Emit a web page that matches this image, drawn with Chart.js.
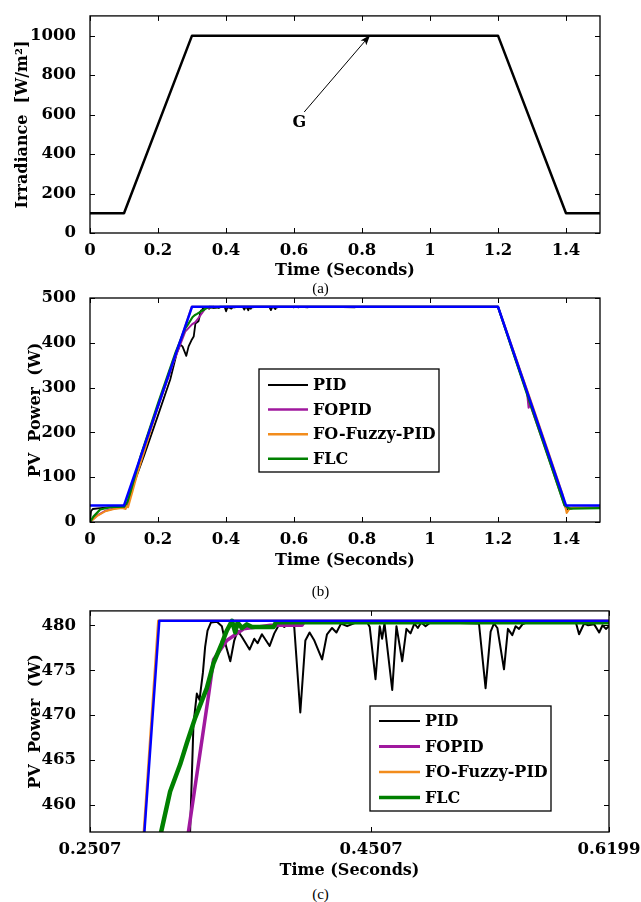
<!DOCTYPE html>
<html>
<head>
<meta charset="utf-8">
<script src="https://cdn.jsdelivr.net/npm/chart.js@4.4.1/dist/chart.umd.min.js"></script>
<style>
  html, body { margin: 0; padding: 0; background: #fff; }
  body { width: 641px; height: 902px; position: relative; overflow: hidden; }
  canvas { position: absolute; left: 0; }
  .cap { position: absolute; left: 0; width: 641px; text-align: center; font: 15px 'Liberation Serif', serif; color: #000; line-height: 16px; }
</style>
</head>
<body>
<canvas id="chartA" width="641" height="280" style="top:0"></canvas>
<canvas id="chartB" width="641" height="290" style="top:280px"></canvas>
<canvas id="chartC" width="641" height="285" style="top:595px"></canvas>
<div class="cap" style="top:280px">(a)</div>
<div class="cap" style="top:583px">(b)</div>
<div class="cap" style="top:886px">(c)</div>
<script>
// irradiance profile, panel (a)
const irrT = [0, 0.1, 0.3, 1.2, 1.4, 1.5];
const irrG = [100, 100, 1000, 1000, 100, 100];

// ideal maximum power (blue)
const pmaxT = [0, 0.1, 0.3, 1.2, 1.4, 1.5];
const pmaxP = [37, 37, 480.5, 480.5, 37, 37];

// PID
const pidT = [0, 0.003, 0.008, 0.03, 0.06, 0.1, 0.11, 0.13, 0.16, 0.2, 0.236, 0.2557, 0.2655, 0.272, 0.2832, 0.29, 0.298, 0.305, 0.31, 0.319, 0.3219,
  0.3243, 0.3267, 0.3286, 0.331, 0.3326, 0.3343, 0.3367, 0.341, 0.3445, 0.3476, 0.3505, 0.3533, 0.3557, 0.3588, 0.3642, 0.3676, 0.3699, 0.373,
  0.3785, 0.3818, 0.3856, 0.3889, 0.3927, 0.396, 0.4003, 0.4039, 0.4069, 0.4103, 0.4158, 0.4193, 0.4229, 0.426, 0.4293, 0.4336, 0.4407, 0.4478,
  0.4497, 0.4538, 0.4568, 0.4585, 0.4602, 0.4657, 0.4687, 0.4728, 0.4758, 0.4787, 0.4815, 0.4839, 0.4863, 0.4894, 0.493, 0.5274, 0.5321, 0.5357,
  0.5381, 0.5405, 0.5452, 0.548, 0.5511, 0.5535, 0.5559, 0.5583, 0.5619, 0.5963, 0.5986, 0.6022, 0.6051, 0.6094, 0.6129, 0.6153, 0.6177, 0.6207,
  0.64, 0.645, 0.7, 0.705, 0.78, 0.785, 0.86, 0.865, 0.95, 0.955, 1.05, 1.055, 1.15, 1.155, 1.2, 1.25, 1.3, 1.35, 1.395, 1.405, 1.42, 1.5];
const pidP = [0, 24, 29, 31, 33, 34, 40, 88, 150, 238, 318, 378, 396, 392, 371, 392, 405, 414, 443, 448, 457,
  469, 472.4, 471.7, 474.7, 477.6, 479.4, 480.3, 480.4, 479.9, 477.6, 476.0, 478.3, 479.4, 478.7, 477.3, 478.5, 478.0, 479.0,
  477.7, 479.1, 480.2, 479.8, 480.3, 479.8, 470.3, 478.3, 479.2, 478.3, 476.2, 479.0, 479.7, 479.2, 480.2, 479.9, 480.35, 480.35,
  479.8, 474.0, 479.9, 478.5, 480.2, 472.8, 479.9, 476.0, 479.6, 479.1, 480.2, 479.7, 480.3, 479.9, 480.35, 480.2, 473.0, 479.3,
  480.2, 479.7, 475.1, 479.6, 478.9, 479.9, 479.6, 480.1, 480.35, 480.35, 479.0, 480.2, 480.0, 480.1, 479.2, 480.0, 479.6, 480.0,
  479.3, 480.3, 479.5, 480.3, 479.4, 480.3, 479.6, 480.3, 479.5, 480.3, 479.6, 480.3, 479.5, 480.3, 480.35, 366, 255, 143, 42, 28, 31, 32];

// FOPID
const fopidT = [0, 0.02, 0.045, 0.07, 0.1, 0.11, 0.15, 0.2, 0.25, 0.28, 0.3, 0.31, 0.3207, 0.335, 0.3386, 0.348, 0.36, 0.379, 0.4015, 0.403,
  1.2, 1.25, 1.285, 1.29, 1.295, 1.3, 1.35, 1.397, 1.41, 1.5];
const fopidP = [0, 14, 25, 30, 33, 38, 148, 258, 366, 425, 441, 446, 457, 472.2, 476.2, 478.3, 479.6, 480.0, 480.0, 480.35,
  480.35, 370, 292, 255, 262, 250, 140, 34, 31, 32];

// FO-Fuzzy-PID
const fuzzyT = [0, 0.02, 0.045, 0.07, 0.095, 0.105, 0.108, 0.112, 0.12, 0.125, 0.14, 0.17, 0.2, 0.25, 0.2993,
  1.2, 1.25, 1.3, 1.35, 1.39, 1.402, 1.41, 1.42, 1.5];
const fuzzyP = [0, 13, 24, 29, 31, 29, 36, 33, 55, 68, 110, 183, 258, 368, 480.5,
  480.5, 372, 263, 152, 62, 20, 29, 32, 32];

// FLC
const flcT = [0, 0.01, 0.03, 0.06, 0.1, 0.11, 0.12, 0.15, 0.2, 0.25, 0.28, 0.29, 0.3013, 0.3077, 0.3148, 0.3196, 0.3255, 0.3338, 0.3386,
  0.3445, 0.348, 0.3517, 0.354, 0.3557, 0.3588, 0.3623, 0.366, 0.3813, 0.383, 1.2, 1.25, 1.3, 1.35, 1.395, 1.41, 1.5];
const flcP = [0, 12, 28, 33, 34, 45, 70, 150, 265, 375, 432, 443, 457, 461.5, 464.5, 466.9, 469.7, 473.0, 475.8,
  478.0, 479.4, 480.5, 479.2, 480.3, 479.7, 480.1, 479.8, 479.8, 480.35, 480.35, 366, 252, 140, 38, 30, 31];

const timeTicksAB = [0, 0.2, 0.4, 0.6, 0.8, 1, 1.2, 1.4];
const timeTicksC = [0.2507, 0.4507, 0.6199];
const irrTicks = [0, 200, 400, 600, 800, 1000];
const powTicksB = [0, 100, 200, 300, 400, 500];
const powTicksC = [460, 465, 470, 475, 480];
const legendOrder = ['PID', 'FOPID', 'FO-Fuzzy-PID', 'FLC'];

// arrow "G" in panel (a): tail, tip and label in data units
const arrowTail = [0.630, 613];
const arrowTip = [0.824, 1003];
const arrowLabel = [0.616, 556];

const FONT = "'DejaVu Serif', serif";
const pts = (t, v) => t.map((x, i) => ({ x, y: v[i] }));

// frame with inward ticks on all four sides, MATLAB style
const boxAxes = {
  id: 'boxAxes',
  afterDatasetsDraw(chart) {
    const { ctx, chartArea: a, scales: { x, y } } = chart;
    const L = 5;
    ctx.save();
    ctx.strokeStyle = '#000';
    ctx.lineWidth = 1;
    ctx.beginPath();
    x.ticks.forEach(t => {
      const px = Math.round(x.getPixelForValue(t.value)) + 0.5;
      ctx.moveTo(px, a.bottom); ctx.lineTo(px, a.bottom - L);
      ctx.moveTo(px, a.top); ctx.lineTo(px, a.top + L);
    });
    y.ticks.forEach(t => {
      const py = Math.round(y.getPixelForValue(t.value)) + 0.5;
      ctx.moveTo(a.left, py); ctx.lineTo(a.left + L, py);
      ctx.moveTo(a.right, py); ctx.lineTo(a.right - L, py);
    });
    ctx.stroke();
    ctx.lineWidth = 1.3;
    ctx.strokeRect(a.left, a.top, a.right - a.left, a.bottom - a.top);
    ctx.restore();
  }
};

const legendBox = {
  id: 'legendBox',
  afterDatasetsDraw(chart, args, o) {
    if (!o || !o.w) return;
    const { ctx } = chart;
    ctx.save();
    ctx.fillStyle = '#fff';
    ctx.fillRect(o.x, o.y, o.w, o.h);
    ctx.strokeStyle = '#000';
    ctx.lineWidth = 1.3;
    ctx.strokeRect(o.x, o.y, o.w, o.h);
    ctx.font = 'bold 16px ' + FONT;
    ctx.textBaseline = 'middle';
    legendOrder.forEach((label, i) => {
      const ds = chart.data.datasets.find(d => d.label === label);
      const yy = o.y + o.first + i * o.gap;
      ctx.strokeStyle = ds.borderColor;
      ctx.lineWidth = o.lw[i];
      ctx.beginPath();
      ctx.moveTo(o.x + o.l0, yy); ctx.lineTo(o.x + o.l1, yy);
      ctx.stroke();
      ctx.fillStyle = '#000';
      ctx.fillText(label, o.x + o.tx, yy + 1);
    });
    ctx.restore();
  }
};

const arrowNote = {
  id: 'arrowNote',
  afterDatasetsDraw(chart, args, o) {
    if (!o || !o.on) return;
    const { ctx, scales: { x, y } } = chart;
    const x0 = x.getPixelForValue(arrowTail[0]), y0 = y.getPixelForValue(arrowTail[1]);
    const x1 = x.getPixelForValue(arrowTip[0]), y1 = y.getPixelForValue(arrowTip[1]);
    const ang = Math.atan2(y1 - y0, x1 - x0);
    ctx.save();
    ctx.strokeStyle = '#000';
    ctx.fillStyle = '#000';
    ctx.lineWidth = 1;
    ctx.beginPath(); ctx.moveTo(x0, y0); ctx.lineTo(x1, y1); ctx.stroke();
    ctx.beginPath();
    ctx.moveTo(x1, y1);
    ctx.lineTo(x1 - 11 * Math.cos(ang - 0.35), y1 - 11 * Math.sin(ang - 0.35));
    ctx.lineTo(x1 - 8 * Math.cos(ang), y1 - 8 * Math.sin(ang));
    ctx.lineTo(x1 - 11 * Math.cos(ang + 0.35), y1 - 11 * Math.sin(ang + 0.35));
    ctx.closePath(); ctx.fill();
    ctx.font = 'bold 16px ' + FONT;
    ctx.textAlign = 'center';
    ctx.textBaseline = 'middle';
    ctx.fillText('G', x.getPixelForValue(arrowLabel[0]), y.getPixelForValue(arrowLabel[1]));
    ctx.restore();
  }
};

function axisX(min, max, ticks, fmt, height) {
  return {
    type: 'linear', min, max,
    afterBuildTicks: s => { s.ticks = ticks.map(v => ({ value: v })); },
    afterFit: s => { s.height = height; },
    grid: { display: false }, border: { display: false },
    ticks: { color: '#000', padding: 0, maxRotation: 0, autoSkip: false, font: { family: FONT, size: 16.5, weight: 'bold' }, callback: fmt },
    title: { display: true, text: 'Time (Seconds)', color: '#000', padding: 0, font: { family: FONT, size: 16, weight: 'bold' } },
  };
}

function axisY(min, max, ticks, title, titlePad) {
  return {
    type: 'linear', min, max,
    afterBuildTicks: s => { s.ticks = ticks.map(v => ({ value: v })); },
    afterFit: s => { s.width = 90; },
    grid: { display: false }, border: { display: false },
    ticks: { color: '#000', padding: 6, autoSkip: false, font: { family: FONT, size: 16.5, weight: 'bold' }, callback: v => String(v) },
    title: { display: true, text: title, color: '#000', padding: { top: titlePad, bottom: 0 }, font: { family: FONT, size: 16, weight: 'bold' } },
  };
}

function powerSets(widths) {
  return [
    { label: 'Pmax', data: pts(pmaxT, pmaxP), borderColor: '#0000ff', borderWidth: widths[4], order: 1 },
    { label: 'FLC', data: pts(flcT, flcP), borderColor: '#008000', borderWidth: widths[3], order: 2 },
    { label: 'FO-Fuzzy-PID', data: pts(fuzzyT, fuzzyP), borderColor: '#f28c1c', borderWidth: widths[2], order: 3 },
    { label: 'FOPID', data: pts(fopidT, fopidP), borderColor: '#a0189e', borderWidth: widths[1], order: 4 },
    { label: 'PID', data: pts(pidT, pidP), borderColor: '#000000', borderWidth: widths[0], order: 5 },
  ];
}

const common = {
  responsive: false, animation: false,
  elements: { point: { radius: 0 }, line: { tension: 0, borderJoinStyle: 'round' } },
};
const fmtAB = v => String(Number(v.toFixed(1)));
const fmtC = v => v.toFixed(4);

new Chart(document.getElementById('chartA'), {
  type: 'line',
  data: { datasets: [{ label: 'G', data: pts(irrT, irrG), borderColor: '#000', borderWidth: 2.5 }] },
  options: {
    ...common,
    layout: { padding: { left: 0, right: 41, top: 7, bottom: 0 } },
    plugins: { legend: { display: false }, tooltip: { enabled: false }, arrowNote: { on: true } },
    scales: { x: axisX(0, 1.5, timeTicksAB, fmtAB, 47), y: axisY(0, 1100, irrTicks, 'Irradiance  [W/m²]', 13) },
  },
  plugins: [boxAxes, arrowNote],
});

new Chart(document.getElementById('chartB'), {
  type: 'line',
  data: { datasets: powerSets([1.8, 2, 2, 2.2, 2.5]) },
  options: {
    ...common,
    layout: { padding: { left: 0, right: 41, top: 18, bottom: 0 } },
    plugins: {
      legend: { display: false }, tooltip: { enabled: false },
      legendBox: { x: 259, y: 89, w: 180, h: 103, first: 16, gap: 24.6, l0: 9, l1: 49, tx: 54, lw: [2.2, 2.5, 2.5, 2.5] },
    },
    scales: { x: axisX(0, 1.5, timeTicksAB, fmtAB, 48), y: axisY(0, 500, powTicksB, 'PV  Power  (W)', 26) },
  },
  plugins: [boxAxes, legendBox],
});

new Chart(document.getElementById('chartC'), {
  type: 'line',
  data: { datasets: powerSets([2, 3.5, 2.5, 4.5, 2.5]).map(d => ({ ...d, clip: 0 })) },
  options: {
    ...common,
    layout: { padding: { left: 0, right: 32, top: 8, bottom: 0 } },
    plugins: {
      legend: { display: false }, tooltip: { enabled: false },
      legendBox: { x: 370, y: 111, w: 181, h: 105, first: 15, gap: 25.5, l0: 9, l1: 50, tx: 55, lw: [2, 3, 2.5, 3.5] },
    },
    scales: { x: axisX(0.2507, 0.6199, timeTicksC, fmtC, 48), y: axisY(457, 481.6, powTicksC, 'PV  Power  (W)', 26) },
  },
  plugins: [boxAxes, legendBox],
});
</script>
</body>
</html>
